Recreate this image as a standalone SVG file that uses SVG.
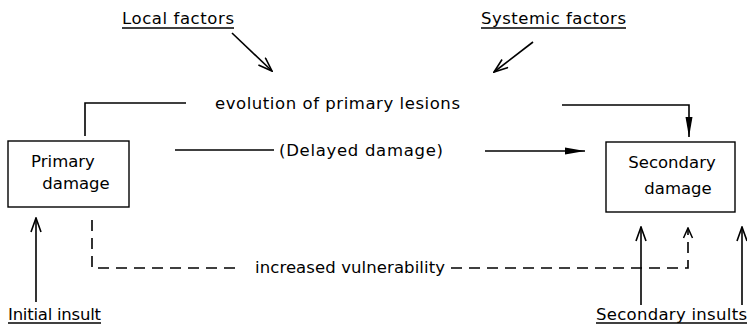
<svg xmlns="http://www.w3.org/2000/svg" width="747" height="328" viewBox="0 0 747 328">
<defs>
<style>
text{font-family:"DejaVu Sans","Liberation Sans",sans-serif;font-size:16.5px;fill:#000}
.c{text-anchor:middle}
.ln{stroke:#000;stroke-width:1.6;fill:none}
.ds{stroke:#000;stroke-width:1.6;fill:none;stroke-dasharray:11 7}
.box{stroke:#000;stroke-width:1.4;fill:#fff}
</style>
<marker id="open" viewBox="0 0 12 12" refX="11" refY="6" markerWidth="12" markerHeight="12" markerUnits="userSpaceOnUse" orient="auto">
<path d="M1,1.5 L11,6 L1,10.5" fill="none" stroke="#000" stroke-width="1.5"/>
</marker>
<marker id="openv" viewBox="0 0 16 12" refX="15" refY="6" markerWidth="16" markerHeight="12" markerUnits="userSpaceOnUse" orient="auto">
<path d="M1,1 L15,6 L1,11" fill="none" stroke="#000" stroke-width="1.6"/>
</marker>
<marker id="fill" viewBox="0 0 20 10" refX="20" refY="5" markerWidth="20" markerHeight="10" markerUnits="userSpaceOnUse" orient="auto">
<path d="M0,1.5 L20,5 L0,8.5 Z" fill="#000"/>
</marker>
</defs>
<g id="local-factors">
<text x="122" y="24" textLength="112">Local factors</text>
<line class="ln" x1="122" y1="28" x2="234" y2="28"/>
</g>
<g id="systemic-factors">
<text x="481" y="24" textLength="145">Systemic factors</text>
<line class="ln" x1="481" y1="28" x2="626" y2="28"/>
</g>
<g id="evolution">
<text x="215" y="109" textLength="245">evolution of primary lesions</text>
</g>
<g id="delayed">
<text x="279" y="156" textLength="164">(Delayed damage)</text>
</g>
<g id="primary-damage">
<rect class="box" x="8" y="141" width="121" height="66"/>
<text class="c" x="63" y="167">Primary</text>
<text class="c" x="76" y="189">damage</text>
</g>
<g id="secondary-damage">
<rect class="box" x="606" y="142" width="129" height="70"/>
<text class="c" x="672" y="168">Secondary</text>
<text class="c" x="678" y="194">damage</text>
</g>
<g id="vulnerability">
<text x="255" y="273" textLength="190">increased vulnerability</text>
</g>
<g id="initial-insult">
<text x="8" y="320" textLength="93">Initial insult</text>
<line class="ln" x1="8" y1="323" x2="101" y2="323"/>
</g>
<g id="secondary-insults">
<text x="596" y="320" textLength="151">Secondary insults</text>
<line class="ln" x1="596" y1="323" x2="747" y2="323"/>
</g>
<g id="connectors">
<line class="ln" x1="232" y1="33" x2="272" y2="71" marker-end="url(#openv)"/>
<line class="ln" x1="533" y1="42" x2="494" y2="72" marker-end="url(#openv)"/>
<polyline class="ln" points="186,103 85,103 85,136"/>
<polyline class="ln" points="562,105 689,105 689,137" marker-end="url(#fill)"/>
<line class="ln" x1="175" y1="150" x2="274" y2="150"/>
<line class="ln" x1="485" y1="151" x2="585" y2="151" marker-end="url(#fill)"/>
<line class="ln" x1="36" y1="302" x2="36" y2="218" marker-end="url(#openv)"/>
<polyline class="ds" points="92,220 92,268 240,268"/>
<polyline class="ds" points="451,268 688,268 688,228" marker-end="url(#open)"/>
<line class="ln" x1="641" y1="305" x2="641" y2="227" marker-end="url(#openv)"/>
<line class="ln" x1="742" y1="305" x2="742" y2="227" marker-end="url(#openv)"/>
</g>
</svg>
